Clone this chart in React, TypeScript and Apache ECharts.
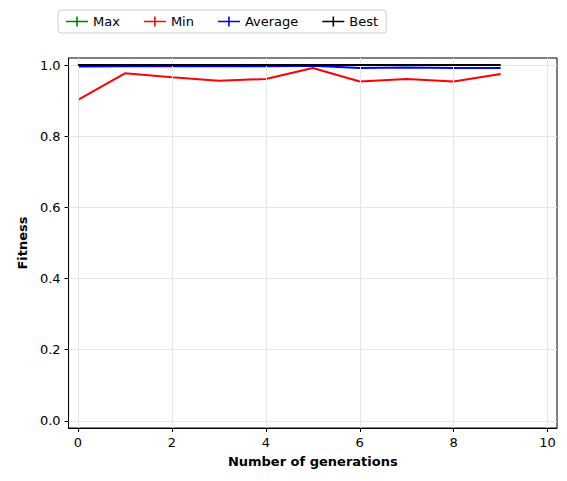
import { useEffect, useRef } from 'react';
import * as echarts from 'echarts';

const generations = [0, 1, 2, 3, 4, 5, 6, 7, 8, 9];
const maxFit = [1.0, 1.0, 1.0, 1.0, 1.0, 1.0, 1.0, 1.0, 1.0, 1.0];
const minFit = [0.902, 0.977, 0.966, 0.956, 0.961, 0.992, 0.954, 0.961, 0.954, 0.975];
const avgFit = [0.996, 0.997, 0.997, 0.997, 0.997, 0.998, 0.992, 0.993, 0.992, 0.992];
const bestFit = [1.0, 1.0, 1.0, 1.0, 1.0, 1.0, 1.0, 1.0, 1.0, 1.0];
const xTicks = [0, 2, 4, 6, 8, 10];
const yTicks = [0, 0.2, 0.4, 0.6, 0.8, 1.0];

const icon = 'path://M0,4.2H22V5.8H0Z M10.2,0H11.8V10H10.2Z';

export default function App() {
  const ref = useRef<HTMLDivElement>(null);

  useEffect(() => {
    if (!ref.current) return;
    const chart = echarts.init(ref.current, null, { renderer: 'svg' });
    const font = 'DejaVu Sans';
    const mk = (name: string, color: string, data: number[], z: number) => ({
      name,
      type: 'line',
      data: generations.map((g, i) => [g, data[i]]),
      showSymbol: false,
      lineStyle: { color, width: 2 },
      itemStyle: { color },
      z,
    });
    chart.setOption({
      animation: false,
      textStyle: { fontFamily: font },
      grid: { left: 53, right: 2, top: 50, bottom: 45, show: true, borderColor: '#000', borderWidth: 1 },
      legend: {
        top: 2,
        left: 50,
        itemWidth: 22,
        itemHeight: 12,
        itemGap: 24,
        padding: [5, 8],
        borderColor: '#ccc',
        borderWidth: 1,
        borderRadius: 3,
        icon,
        textStyle: { fontSize: 13, color: '#000', fontFamily: font },
        data: ['Max', 'Min', 'Average', 'Best'],
      },
      xAxis: {
        type: 'value',
        min: -0.2,
        max: 10.2,
        name: 'Number of generations',
        nameLocation: 'middle',
        nameGap: 27,
        nameTextStyle: { fontWeight: 'bold', fontSize: 13, color: '#000' },
        axisLine: { onZero: false, lineStyle: { color: '#000' } },
        axisTick: { customValues: xTicks, length: 4, lineStyle: { color: '#000' } },
        axisLabel: { customValues: xTicks, color: '#000', fontSize: 13 },
        splitLine: { show: false },
      },
      yAxis: {
        type: 'value',
        min: -0.02,
        max: 1.02,
        name: 'Fitness',
        nameLocation: 'middle',
        nameGap: 36,
        nameTextStyle: { fontWeight: 'bold', fontSize: 13, color: '#000' },
        axisLine: { show: true, onZero: false, lineStyle: { color: '#000' } },
        axisTick: { show: true, length: 4, customValues: yTicks, lineStyle: { color: '#000' } },
        axisLabel: {
          customValues: yTicks,
          color: '#000',
          fontSize: 13,
          formatter: (v: number) => v.toFixed(1),
        },
        splitLine: { show: false },
      },
      series: [
        mk('Max', '#008000', maxFit, 2),
        mk('Min', '#ff0000', minFit, 3),
        mk('Average', '#0000ff', avgFit, 4),
        mk('Best', '#000000', bestFit, 5),
        {
          type: 'line',
          data: [],
          markLine: {
            silent: true,
            symbol: 'none',
            label: { show: false },
            lineStyle: { color: '#e6e6e6', type: 'solid', width: 1 },
            data: [
              ...xTicks.map((x) => ({ xAxis: x })),
              ...yTicks.map((y) => ({ yAxis: y })),
            ],
          },
          z: 1,
        },
      ],
    });
    return () => chart.dispose();
  }, []);

  return <div ref={ref} style={{ width: 551, height: 465 }} />;
}
